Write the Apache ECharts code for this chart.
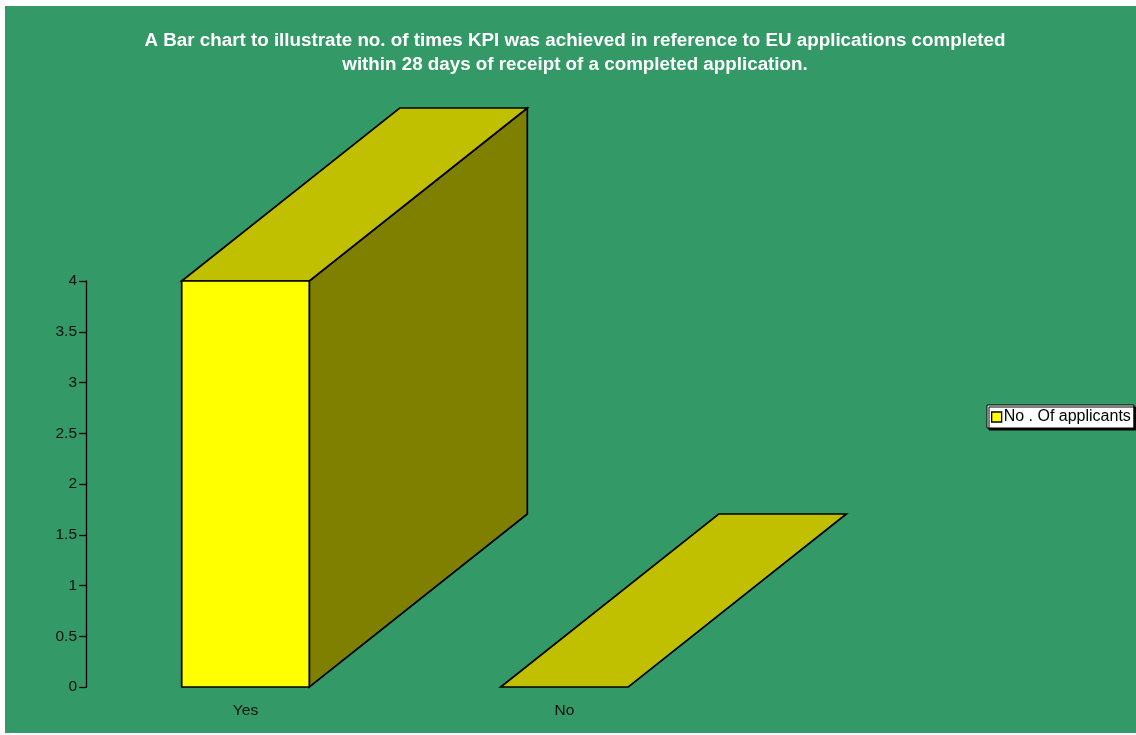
<!DOCTYPE html>
<html>
<head>
<meta charset="utf-8">
<title>KPI achievement – EU applications</title>
<script src="https://cdn.jsdelivr.net/npm/echarts@6/dist/echarts.min.js"></script>
<style>
  html, body { margin: 0; padding: 0; background: #ffffff; }
  #chart { width: 1136px; height: 735px; }
</style>
</head>
<body>
<div id="chart"></div>
<script>
// Chart data
const categories = ['Yes', 'No'];
const applicants = [4, 0];
const seriesName = 'No . Of applicants';
const titleText = 'A Bar chart to illustrate no. of times KPI was achieved in reference to EU applications completed\nwithin 28 days of receipt of a completed application.';
const yMin = 0;
const yMax = 4;
const yStep = 0.5;

// Look of the extruded bars
const FRONT = '#FFFF00';
const TOP = '#C0C000';
const SIDE = '#808000';
const EDGE = '#000000';
const DEPTH_X = 218;   // px the back face is shifted right
const DEPTH_Y = -173;  // px the back face is shifted up
const BAR_RATIO = 0.4; // front face width as a share of the category band

const chart = echarts.init(document.getElementById('chart'), null, { renderer: 'canvas' });

function renderBar(params, api) {
  const cat = api.value(0);
  const v = api.value(1);
  const top = api.coord([cat, v]);
  const base = api.coord([cat, 0]);
  const bw = api.size([1, 0])[0] * BAR_RATIO;
  const x0 = top[0] - bw / 2;
  const x1 = top[0] + bw / 2;
  const yT = top[1];
  const yB = base[1];
  const stroke = { stroke: EDGE, lineWidth: 1.7, lineJoin: 'miter' };
  const children = [];
  if (yB - yT > 0.5) {
    children.push({
      type: 'polygon',
      shape: { points: [[x1, yT], [x1 + DEPTH_X, yT + DEPTH_Y], [x1 + DEPTH_X, yB + DEPTH_Y], [x1, yB]] },
      style: Object.assign({ fill: SIDE }, stroke)
    });
  }
  children.push({
    type: 'polygon',
    shape: { points: [[x0, yT], [x0 + DEPTH_X, yT + DEPTH_Y], [x1 + DEPTH_X, yT + DEPTH_Y], [x1, yT]] },
    style: Object.assign({ fill: TOP }, stroke)
  });
  if (yB - yT > 0.5) {
    children.push({
      type: 'rect',
      shape: { x: x0, y: yT, width: bw, height: yB - yT },
      style: Object.assign({ fill: FRONT }, stroke)
    });
  }
  return { type: 'group', children: children };
}

const option = {
  backgroundColor: 'transparent',
  animation: false,
  textStyle: { fontFamily: '"Liberation Sans", Arial, sans-serif' },
  graphic: [{
    type: 'rect',
    left: 5, top: 6, z: -100,
    shape: { width: 1131, height: 727 },
    style: { fill: '#339966' },
    silent: true
  }],
  title: {
    text: titleText,
    left: 575,
    top: 29,
    padding: 0,
    textAlign: 'center',
    textStyle: {
      color: '#ffffff',
      fontSize: 18.8,
      fontWeight: 'bold',
      lineHeight: 24,
      fontFamily: '"Liberation Sans", Arial, sans-serif'
    }
  },
  legend: {
    data: [seriesName],
    left: 987,
    top: 405,
    orient: 'vertical',
    padding: [4, 3, 3, 4],
    itemWidth: 10,
    itemHeight: 10,
    icon: 'rect',
    backgroundColor: '#ffffff',
    borderColor: '#000000',
    borderWidth: 1,
    borderRadius: 0,
    shadowColor: '#000000',
    shadowOffsetX: 2,
    shadowOffsetY: 2,
    shadowBlur: 0,
    itemStyle: { color: FRONT, borderColor: '#000000', borderWidth: 1.3 },
    textStyle: { color: '#000000', fontSize: 16, padding: [0, 0, 0, -3] }
  },
  grid: { left: 86, right: 412, top: 281, bottom: 48, containLabel: false },
  xAxis: {
    type: 'category',
    data: categories,
    axisLine: { show: false },
    axisTick: { show: false },
    axisLabel: { color: '#111111', fontSize: 15.5, margin: 16 },
    splitLine: { show: false }
  },
  yAxis: {
    type: 'value',
    min: yMin,
    max: yMax,
    interval: yStep,
    axisLine: { show: true, lineStyle: { color: '#000000', width: 1.3 } },
    axisTick: { show: true, length: 7, lineStyle: { color: '#000000', width: 1.3 } },
    axisLabel: { color: '#111111', fontSize: 15.5, margin: 9 },
    splitLine: { show: false }
  },
  series: [{
    name: seriesName,
    type: 'custom',
    clip: false,
    itemStyle: { color: FRONT, borderColor: '#000000', borderWidth: 1 },
    renderItem: renderBar,
    encode: { x: 0, y: 1 },
    data: categories.map((c, i) => [i, applicants[i]])
  }]
};

chart.setOption(option);
</script>
</body>
</html>
